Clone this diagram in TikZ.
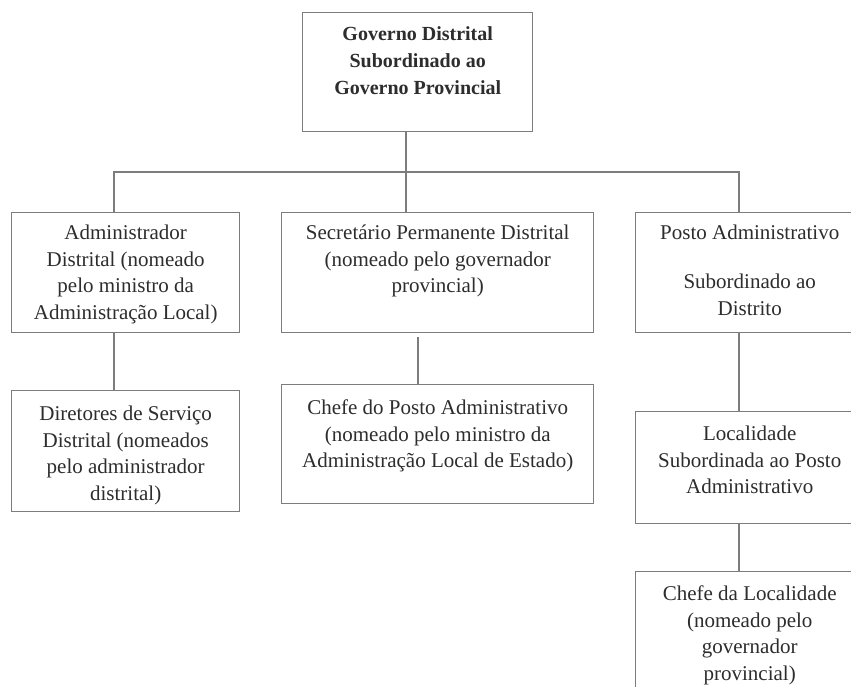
\documentclass[tikz,border=0pt]{standalone}
\usepackage{fontspec}
\setmainfont{Liberation Serif}
\definecolor{linegray}{RGB}{125,125,125}
\definecolor{textgray}{RGB}{45,45,45}
\tikzset{
  box/.style={draw=linegray, line width=1.4pt, inner sep=0pt, anchor=north west, text=textgray},
  conn/.style={draw=linegray, line width=1.4pt},
}
\newcommand{\boxtext}[4]{\parbox[c][#2][t]{#1}{\centering\rule{0pt}{#3}#4}}
\begin{document}
\begin{tikzpicture}[x=1pt,y=-1pt]
\useasboundingbox (0,0) rectangle (851,686);
\fill[white] (0,0) rectangle (851,686);
\clip (0,0) rectangle (851,686);
\begin{scope}[font=\fontsize{21}{26.5}\selectfont]
\node[box, font=\fontsize{20}{27}\selectfont\bfseries] (T) at (302,12)
  {\boxtext{230pt}{119pt}{28pt}{Governo Distrital\\Subordinado ao\\Governo Provincial}};
\node[box] (A) at (11,212)
  {\boxtext{228pt}{120pt}{27pt}{Administrador\\Distrital (nomeado\\pelo ministro da\\Administração Local)}};
\node[box] (B) at (281,212)
  {\boxtext{312pt}{120pt}{27pt}{Secretário Permanente Distrital\\(nomeado pelo governador\\provincial)}};
\node[box] (C) at (635,212)
  {\boxtext{228pt}{120pt}{27pt}{Posto Administrativo\\[22.5pt]Subordinado ao\\Distrito}};
\node[box] (A2) at (11,390)
  {\boxtext{228pt}{121pt}{30pt}{Diretores de Serviço\\Distrital (nomeados\\pelo administrador\\distrital)}};
\node[box] (B2) at (281,384)
  {\boxtext{312pt}{119pt}{30pt}{Chefe do Posto Administrativo\\(nomeado pelo ministro da\\Administração Local de Estado)}};
\node[box] (C2) at (635,411)
  {\boxtext{228pt}{112pt}{29pt}{Localidade\\Subordinada ao Posto\\Administrativo}};
\node[box] (C3) at (635,571)
  {\boxtext{228pt}{140pt}{29pt}{Chefe da Localidade\\(nomeado pelo\\governador\\provincial)}};
\end{scope}
\coordinate (j) at (406,172);
\coordinate (ja) at (114,172);
\coordinate (jc) at (739,172);
\coordinate (jb) at (418,337);
\draw[conn] (j |- T.south) -- (j |- B.north);
\draw[conn] (ja |- A.north) -- (ja) -- (jc) -- (jc |- C.north);
\draw[conn] (ja |- A.south) -- (ja |- A2.north);
\draw[conn] (jb) -- (jb |- B2.north);
\draw[conn] (jc |- C.south) -- (jc |- C2.north);
\draw[conn] (jc |- C2.south) -- (jc |- C3.north);
\end{tikzpicture}
\end{document}
